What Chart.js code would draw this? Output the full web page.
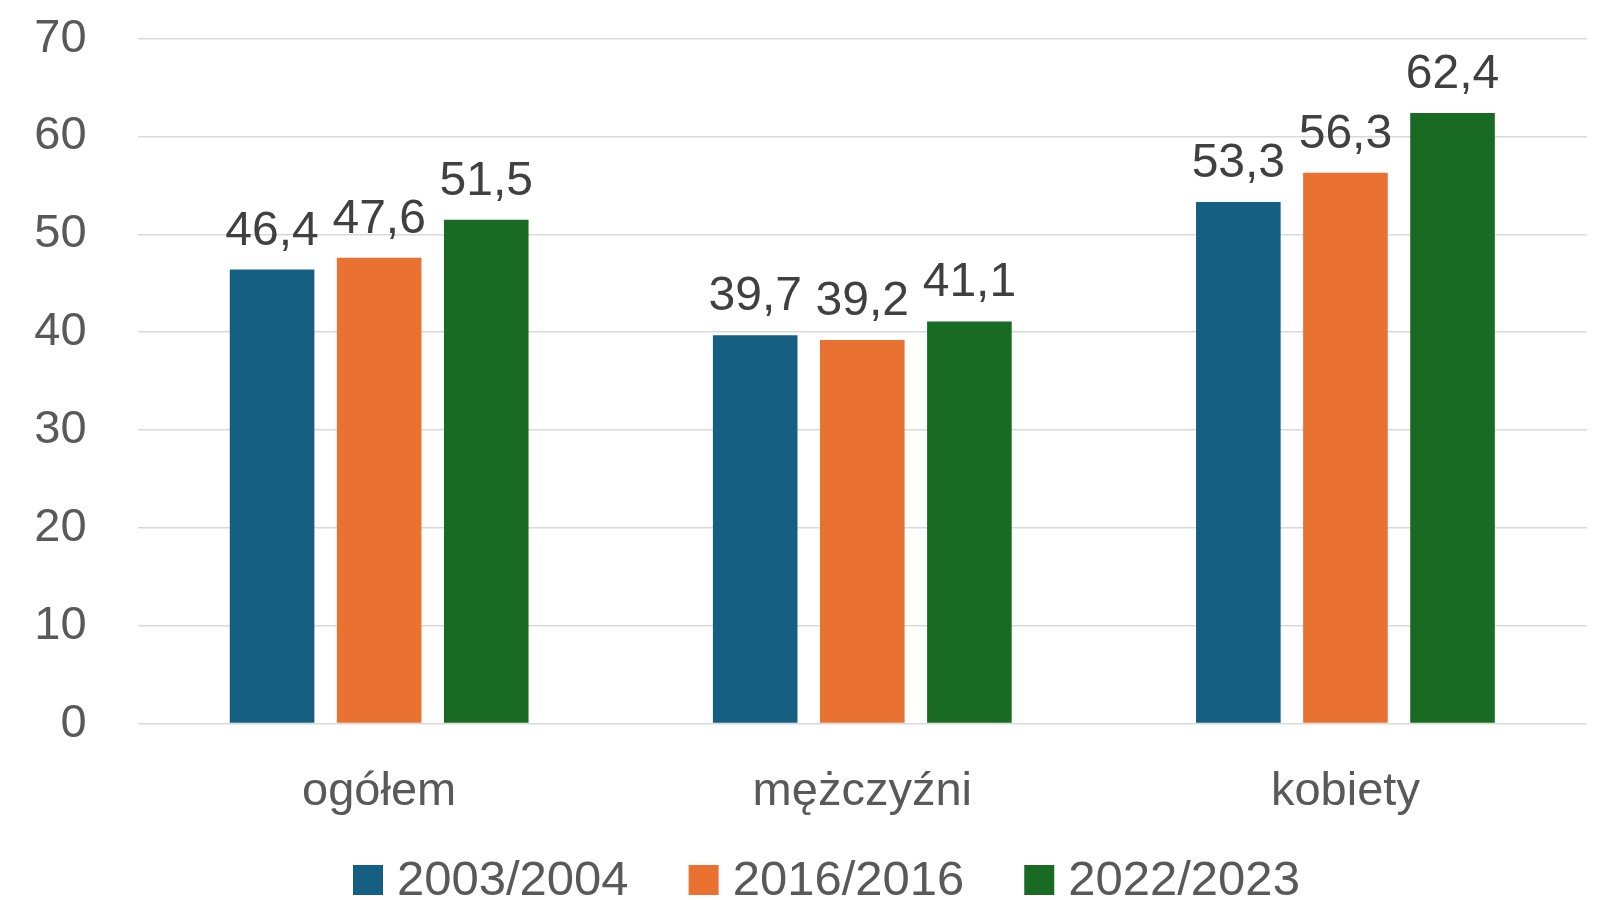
<!DOCTYPE html>
<html><head><meta charset="utf-8">
<script src="https://cdn.jsdelivr.net/npm/chart.js@4"></script>
<style>html,body{margin:0;padding:0;background:#fff}#w{width:1598px;height:900px;position:relative}</style>
</head><body><div id="w"><canvas id="c"></canvas></div>
<script>
const categories = ["ogółem", "mężczyźni", "kobiety"];
const seriesNames = ["2003/2004", "2016/2016", "2022/2023"];
const values2003 = [46.4, 39.7, 53.3];
const values2016 = [47.6, 39.2, 56.3];
const values2022 = [51.5, 41.1, 62.4];
const colors = ["#156082", "#E97132", "#196B24"];
const FONT = "'Liberation Sans', Arial, sans-serif";

const dataLabels = {
  id: 'dataLabels',
  afterDatasetsDraw(chart) {
    const ctx = chart.ctx;
    ctx.save();
    ctx.font = "48px " + FONT;
    ctx.fillStyle = "#404040";
    ctx.textAlign = "center";
    ctx.textBaseline = "alphabetic";
    chart.data.datasets.forEach((ds, i) => {
      chart.getDatasetMeta(i).data.forEach((bar, j) => {
        ctx.fillText(ds.data[j].toFixed(1).replace('.', ','), bar.x, bar.y - 25);
      });
    });
    ctx.restore();
  }
};

const customLegend = {
  id: 'customLegend',
  afterDraw(chart) {
    const ctx = chart.ctx;
    ctx.save();
    ctx.font = "49px " + FONT;
    ctx.textBaseline = "alphabetic";
    ctx.textAlign = "left";
    let x = 353;
    const base = 895;
    chart.data.datasets.forEach((ds) => {
      ctx.fillStyle = ds.backgroundColor;
      ctx.fillRect(x, base - 30, 30, 30);
      x += 30 + 14;
      ctx.fillStyle = "#595959";
      ctx.fillText(ds.label, x, base);
      x += ctx.measureText(ds.label).width + 60;
    });
    ctx.restore();
  }
};

new Chart(document.getElementById('c'), {
  type: 'bar',
  data: {
    labels: categories,
    datasets: [
      { label: seriesNames[0], data: values2003, backgroundColor: colors[0] },
      { label: seriesNames[1], data: values2016, backgroundColor: colors[1] },
      { label: seriesNames[2], data: values2022, backgroundColor: colors[2] }
    ]
  },
  options: {
    responsive: true,
    maintainAspectRatio: false,
    animation: false,
    devicePixelRatio: 1,
    datasets: { bar: { categoryPercentage: 0.665, barPercentage: 0.79 } },
    layout: { padding: { top: 38.7, left: 0, right: 11, bottom: 0 } },
    plugins: { legend: { display: false }, tooltip: { enabled: false } },
    scales: {
      x: {
        grid: { display: false, drawTicks: false },
        border: { display: false },
        ticks: { color: "#595959", font: { family: FONT, size: 47 }, padding: 40 },
        afterFit(s) { s.height = 176.4; }
      },
      y: {
        min: 0, max: 70,
        grid: { color: "#d9d9d9", lineWidth: 1.5, drawTicks: true, tickLength: 41, tickColor: "rgba(0,0,0,0)" },
        border: { display: false },
        ticks: { stepSize: 10, color: "#595959", font: { family: FONT, size: 47 }, padding: 10 },
        afterFit(s) { s.width = 137.6; }
      }
    }
  },
  plugins: [dataLabels, customLegend]
});
</script></body></html>
